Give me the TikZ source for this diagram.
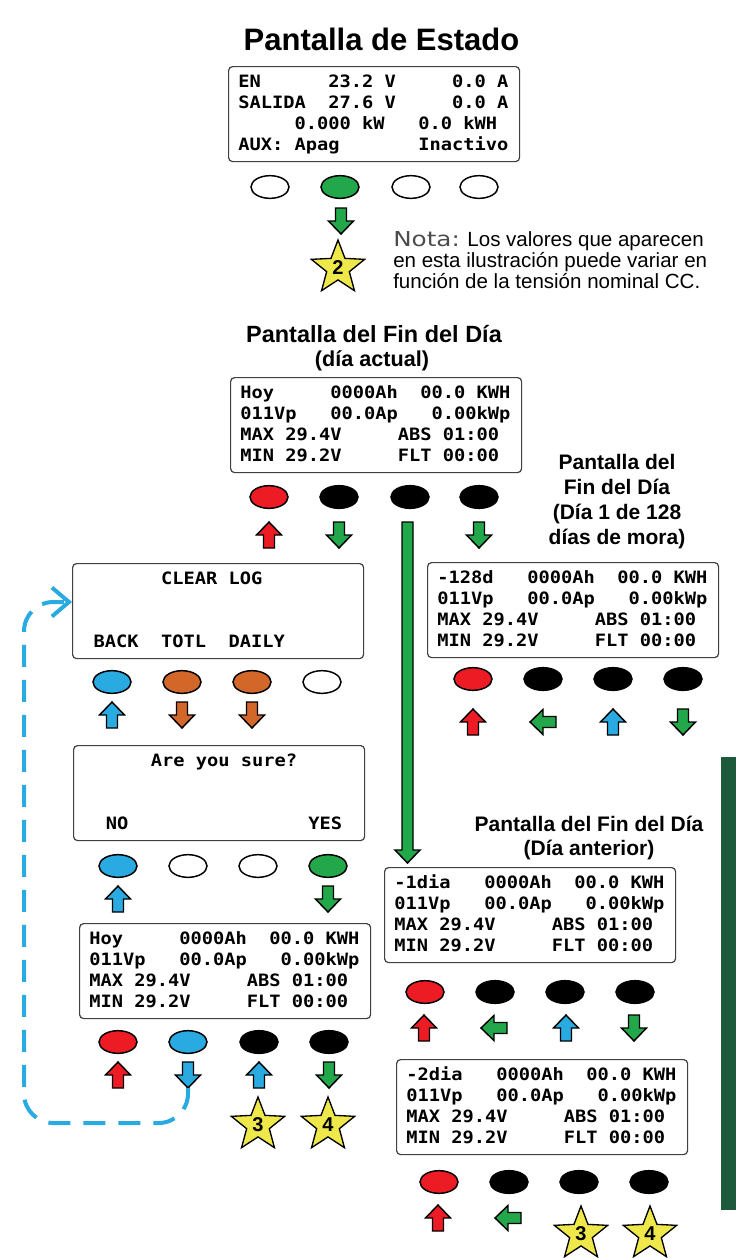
\documentclass[tikz,border=0pt]{standalone}
\usepackage{fontspec}
\setmainfont{Liberation Sans}
\newfontfamily\lcd{DejaVu Sans Mono}[FakeStretch=1.1]
\newfontfamily\notafont{DejaVu Sans}[FakeStretch=1.2]
\usetikzlibrary{shapes.geometric,arrows.meta}
\definecolor{cred}{HTML}{ED1C24}
\definecolor{cgreen}{HTML}{22A84A}
\definecolor{cblue}{HTML}{29AAE1}
\definecolor{corange}{HTML}{D3672A}
\definecolor{cyellow}{HTML}{EFE84A}
\definecolor{cbar}{HTML}{1D5A3B}
\tikzset{
 screen/.style={draw=black!75, line width=0.9pt, rounded corners=3pt, minimum width=218.25pt, minimum height=71.25pt, inner sep=0pt, fill=white},
 lcdline/.style={anchor=base west, inner sep=0pt, font=\lcd\bfseries\fontsize{12.75pt}{15pt}\selectfont\frenchspacing},
 btn/.style={ellipse, draw=black, line width=1.1pt, minimum width=28.5pt, minimum height=17pt, inner sep=0pt},
 starnode/.style={star, star points=5, star point ratio=2.35, draw=black, line width=1pt, fill=cyellow, minimum size=42pt, inner sep=0pt, font=\bfseries\fontsize{15pt}{15pt}\selectfont},
 bline/.style={draw=black, line width=1.1pt, line join=miter},
 pics/barrow/.style={code={\path[bline,fill=#1] (-5.5,-13) -- (5.5,-13) -- (5.5,0) -- (12.5,0) -- (0,13) -- (-12.5,0) -- (-5.5,0) -- cycle;}},
 ttl/.style={anchor=base, inner sep=0pt, font=\bfseries\fontsize{15.75pt}{18pt}\selectfont},
 notetext/.style={anchor=base west, inner sep=0pt, font=\fontsize{15.4pt}{16pt}\selectfont},
 dashline/.style={draw=cblue, line width=3pt, dash pattern=on 16.5pt off 9.75pt, rounded corners=22pt},
}
\newcommand\lcdscreen[7]{%
 \node[screen, anchor=north west] (#1) at (#2,#3) {};
 \node[lcdline] (#1-a) at ({#2+10},{#3+21}) {#4};
 \node[lcdline] (#1-b) at ({#2+10},{#3+42}) {#5};
 \node[lcdline] (#1-c) at ({#2+10},{#3+63.5}) {#6};
 \node[lcdline] (#1-d) at ({#2+10},{#3+84.5}) {#7};
}
\begin{document}
\begin{tikzpicture}[x=0.75pt, y=-0.75pt]
\fill[white] (0,0) rectangle (736,1258);
\useasboundingbox (0,0) rectangle (736,1258);
% side bar
\fill[cbar] (721,757) rectangle (736,1210);
% titles
\node[anchor=base, inner sep=0pt, font=\bfseries\fontsize{23.25pt}{28pt}\selectfont] (t0) at (381.5,50) {Pantalla de Estado};
\node[ttl, font=\bfseries\fontsize{17.6pt}{20pt}\selectfont] (t1a) at (374,342) {Pantalla del Fin del Día};
\node[ttl, font=\bfseries\fontsize{16.2pt}{19pt}\selectfont] (t1b) at (372,366) {(día actual)};
\node[ttl] (t2a) at (617,469) {Pantalla del};
\node[ttl] (t2b) at (617,494) {Fin del Día};
\node[ttl] (t2c) at (617,519) {(Día 1 de 128};
\node[ttl] (t2d) at (617,544) {días de mora)};
\node[ttl] (t3a) at (589,831) {Pantalla del Fin del Día};
\node[ttl] (t3b) at (589,855) {(Día anterior)};
% note
\node[notetext] (n1) at (393,246) {{\notafont\color{black!70}Nota:} Los valores que aparecen};
\node[notetext] (n2) at (393,267) {en esta ilustración puede variar en};
\node[notetext] (n3) at (393,288) {función de la tensión nominal CC.};
% screens
\lcdscreen{s0}{228}{66}{EN~~~~~~23.2~V~~~~~0.0~A}{SALIDA~~27.6~V~~~~~0.0~A}{~~~~~0.000~kW~~~0.0~kWH}{AUX:~Apag~~~~~~~Inactivo}
\lcdscreen{s1}{230}{377}{Hoy~~~~~0000Ah~~00.0~KWH}{011Vp~~~00.0Ap~~~0.00kWp}{MAX~29.4V~~~~~ABS~01:00}{MIN~29.2V~~~~~FLT~00:00}
\lcdscreen{s128}{427}{562}{-128d~~~0000Ah~~00.0~KWH}{011Vp~~~00.0Ap~~~0.00kWp}{MAX~29.4V~~~~~ABS~01:00}{MIN~29.2V~~~~~FLT~00:00}
\lcdscreen{clr}{72}{563}{~~~~~~~CLEAR~LOG}{}{}{~BACK~~TOTL~~DAILY}
\lcdscreen{sure}{73}{745}{~~~~~~Are~you~sure?}{}{}{~~NO~~~~~~~~~~~~~~~~YES}
\lcdscreen{hoy}{79}{923}{Hoy~~~~~0000Ah~~00.0~KWH}{011Vp~~~00.0Ap~~~0.00kWp}{MAX~29.4V~~~~~ABS~01:00}{MIN~29.2V~~~~~FLT~00:00}
\lcdscreen{d1}{384}{867}{-1dia~~~0000Ah~~00.0~KWH}{011Vp~~~00.0Ap~~~0.00kWp}{MAX~29.4V~~~~~ABS~01:00}{MIN~29.2V~~~~~FLT~00:00}
\lcdscreen{d2}{396}{1059}{-2dia~~~0000Ah~~00.0~KWH}{011Vp~~~00.0Ap~~~0.00kWp}{MAX~29.4V~~~~~ABS~01:00}{MIN~29.2V~~~~~FLT~00:00}
% buttons
\node[btn, fill=white]  (s0b1) at (270,187) {};
\node[btn, fill=cgreen] (s0b2) at (340,187) {};
\node[btn, fill=white]  (s0b3) at (411,187) {};
\node[btn, fill=white]  (s0b4) at (479,187) {};
\node[btn, fill=cred]   (s1b1) at (269,497) {};
\node[btn, fill=black]  (s1b2) at (339,497) {};
\node[btn, fill=black]  (s1b3) at (410,497) {};
\node[btn, fill=black]  (s1b4) at (479,497) {};
\node[btn, fill=cred]   (s128b1) at (473,679) {};
\node[btn, fill=black]  (s128b2) at (543,679) {};
\node[btn, fill=black]  (s128b3) at (613,679) {};
\node[btn, fill=black]  (s128b4) at (683,679) {};
\node[btn, fill=cblue]  (clrb1) at (112,682) {};
\node[btn, fill=corange] (clrb2) at (182,682) {};
\node[btn, fill=corange] (clrb3) at (252,682) {};
\node[btn, fill=white]  (clrb4) at (322,682) {};
\node[btn, fill=cblue]  (sureb1) at (118,866) {};
\node[btn, fill=white]  (sureb2) at (188,866) {};
\node[btn, fill=white]  (sureb3) at (258,866) {};
\node[btn, fill=cgreen] (sureb4) at (328,866) {};
\node[btn, fill=cred]   (hoyb1) at (118,1042) {};
\node[btn, fill=cblue]  (hoyb2) at (188,1042) {};
\node[btn, fill=black]  (hoyb3) at (259,1042) {};
\node[btn, fill=black]  (hoyb4) at (329,1042) {};
\node[btn, fill=cred]   (d1b1) at (425,992) {};
\node[btn, fill=black]  (d1b2) at (495,992) {};
\node[btn, fill=black]  (d1b3) at (565,992) {};
\node[btn, fill=black]  (d1b4) at (635,992) {};
\node[btn, fill=cred]   (d2b1) at (439,1182) {};
\node[btn, fill=black]  (d2b2) at (509,1182) {};
\node[btn, fill=black]  (d2b3) at (579,1182) {};
\node[btn, fill=black]  (d2b4) at (649,1182) {};
% block arrows
\pic at (341,221) {barrow=cgreen};
\pic[rotate=180] at (269,535) {barrow=cred};
\pic at (339,535) {barrow=cgreen};
\pic at (479,535) {barrow=cgreen};
\pic[rotate=180] at (473,722) {barrow=cred};
\pic[rotate=-90] at (543,722) {barrow=cgreen};
\pic[rotate=180] at (613,722) {barrow=cblue};
\pic at (683,722) {barrow=cgreen};
\pic[rotate=180] at (112,715) {barrow=cblue};
\pic at (182,715) {barrow=corange};
\pic at (252,715) {barrow=corange};
\pic[rotate=180] at (118,899) {barrow=cblue};
\pic at (328,899) {barrow=cgreen};
\pic[rotate=180] at (118,1075) {barrow=cred};
\pic at (188,1075) {barrow=cblue};
\pic[rotate=180] at (259,1075) {barrow=cblue};
\pic at (329,1075) {barrow=cgreen};
\pic[rotate=180] at (424,1028) {barrow=cred};
\pic[rotate=-90] at (494,1028) {barrow=cgreen};
\pic[rotate=180] at (566,1028) {barrow=cblue};
\pic at (634,1028) {barrow=cgreen};
\pic[rotate=180] at (438,1218) {barrow=cred};
\pic[rotate=-90] at (508,1218) {barrow=cgreen};
% long green arrow
\path[bline, fill=cgreen] (402,522) -- (413,522) -- (413,850) -- (420,850) -- (407.5,863) -- (395,850) -- (402,850) -- cycle;
% stars
\node[starnode] (st2) at (338,268) {2};
\node[starnode] (st3a) at (258,1125) {3};
\node[starnode] (st4a) at (328,1125) {4};
\node[starnode] (st3b) at (581,1234) {3};
\node[starnode] (st4b) at (650,1234) {4};
% dashed return connector
\coordinate (dstart) at (188,1088);
\coordinate (dend) at (clr.west |- 0,602);
\draw[dashline, -{Straight Barb[length=12.75pt, width=21.75pt]}] (dstart) -- (188,1123) -- (24,1123) -- (24,602) -- (dend);
\end{tikzpicture}
\end{document}
